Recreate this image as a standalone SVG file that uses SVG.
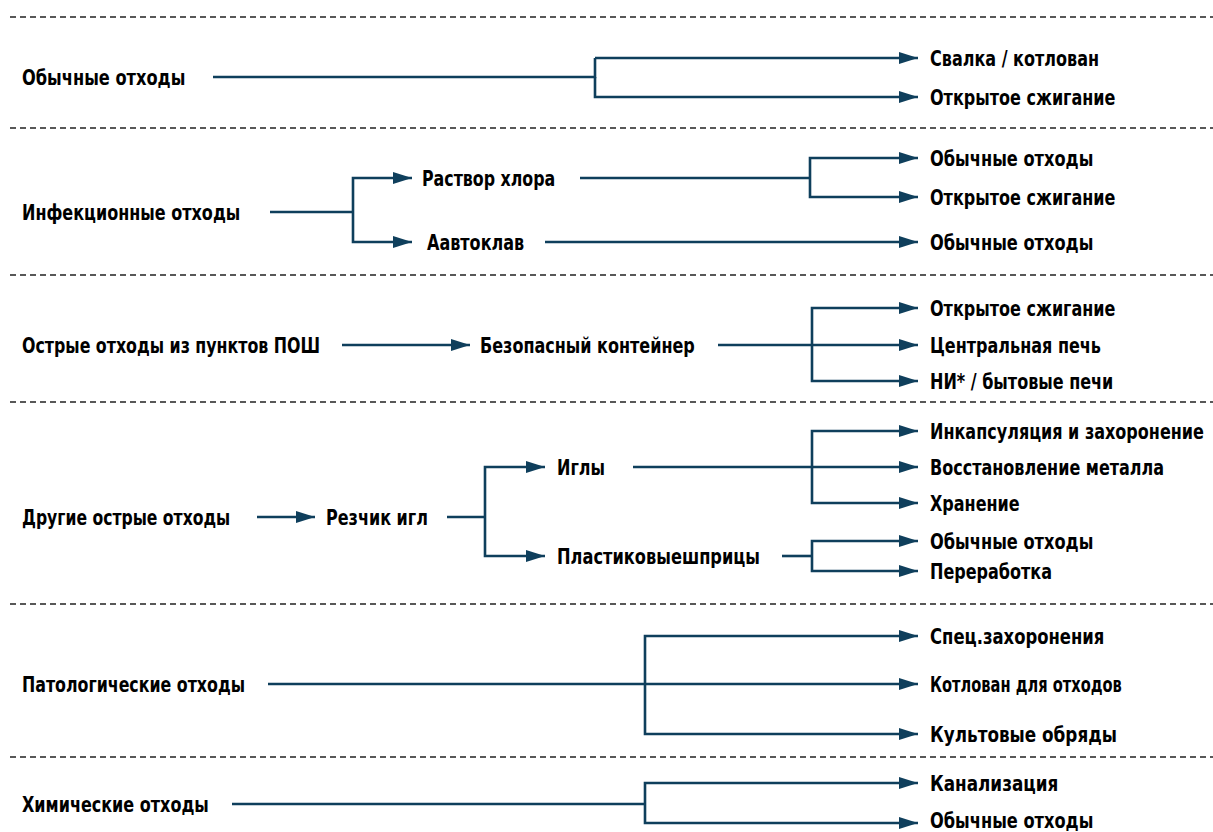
<svg xmlns="http://www.w3.org/2000/svg" width="1213" height="832" viewBox="0 0 1213 832">
<defs>
<marker id="ah" markerUnits="userSpaceOnUse" markerWidth="20" markerHeight="12" refX="19" refY="6" orient="auto">
<path d="M0,0 L19,6 L0,12 z" fill="#0f3f5c"/>
</marker>
<style>
.t{font-family:"DejaVu Sans Condensed","DejaVu Sans","Liberation Sans",sans-serif;font-weight:bold;font-size:22px;fill:#000}
.c{fill:none;stroke:#0f3f5c;stroke-width:2.6}
.a{marker-end:url(#ah)}
.d{stroke:#222;stroke-width:1.5;stroke-dasharray:6 4;fill:none}
</style>
</defs>
<rect width="1213" height="832" fill="#fff"/>
<g id="dividers">
<line class="d" x1="10" y1="17" x2="1213" y2="17"/>
<line class="d" x1="10" y1="128" x2="1213" y2="128"/>
<line class="d" x1="10" y1="275" x2="1213" y2="275"/>
<line class="d" x1="10" y1="402" x2="1213" y2="402"/>
<line class="d" x1="10" y1="604" x2="1213" y2="604"/>
<line class="d" x1="10" y1="757" x2="1213" y2="757"/>
</g>
<g id="connectors">
<path class="c" d="M213,77 H595 V58"/>
<path class="c a" d="M595,58 H918"/>
<path class="c a" d="M595,77 V97 H918"/>
<path class="c" d="M270,212 H353"/>
<path class="c a" d="M353,212 V178 H412"/>
<path class="c a" d="M353,212 V242 H412"/>
<path class="c" d="M580,178 H810"/>
<path class="c a" d="M810,178 V158 H918"/>
<path class="c a" d="M810,178 V197 H918"/>
<path class="c a" d="M545,242 H918"/>
<path class="c a" d="M342,345 H470"/>
<path class="c a" d="M718,345 H918"/>
<path class="c a" d="M812,345 V308 H918"/>
<path class="c a" d="M812,345 V381 H918"/>
<path class="c a" d="M257,517 H315"/>
<path class="c" d="M447,517 H485"/>
<path class="c a" d="M485,517 V467 H545"/>
<path class="c a" d="M485,517 V556 H545"/>
<path class="c a" d="M633,467 H918"/>
<path class="c a" d="M812,467 V431 H918"/>
<path class="c a" d="M812,467 V503 H918"/>
<path class="c" d="M782,556 H812"/>
<path class="c a" d="M812,556 V541 H918"/>
<path class="c a" d="M812,556 V571 H918"/>
<path class="c a" d="M268,684 H918"/>
<path class="c a" d="M645,684 V636 H918"/>
<path class="c a" d="M645,684 V734 H918"/>
<path class="c" d="M232,804 H645"/>
<path class="c a" d="M645,804 V783 H918"/>
<path class="c a" d="M645,804 V823 H918"/>
</g>
<g id="n-obych"><text class="t" transform="translate(22,85) scale(0.82,1)">Обычные отходы</text></g>
<g id="n-svalka"><text class="t" transform="translate(930,66) scale(0.81,1)">Свалка / котлован</text></g>
<g id="n-otkr1"><text class="t" transform="translate(930,105) scale(0.81,1)">Открытое сжигание</text></g>
<g id="n-infek"><text class="t" transform="translate(22,220) scale(0.81,1)">Инфекционные отходы</text></g>
<g id="n-hlor"><text class="t" transform="translate(422,186) scale(0.8,1)">Раствор хлора</text></g>
<g id="n-avtoklav"><text class="t" transform="translate(427,250) scale(0.81,1)">Аавтоклав</text></g>
<g id="n-obych2"><text class="t" transform="translate(930,166) scale(0.82,1)">Обычные отходы</text></g>
<g id="n-otkr2"><text class="t" transform="translate(930,205) scale(0.81,1)">Открытое сжигание</text></g>
<g id="n-obych3"><text class="t" transform="translate(930,250) scale(0.82,1)">Обычные отходы</text></g>
<g id="n-ostrye"><text class="t" transform="translate(22,353) scale(0.8,1)">Острые отходы из пунктов ПОШ</text></g>
<g id="n-bezop"><text class="t" transform="translate(480,353) scale(0.81,1)">Безопасный контейнер</text></g>
<g id="n-otkr3"><text class="t" transform="translate(930,316) scale(0.81,1)">Открытое сжигание</text></g>
<g id="n-centr"><text class="t" transform="translate(930,353) scale(0.81,1)">Центральная печь</text></g>
<g id="n-ni"><text class="t" transform="translate(930,389) scale(0.81,1)">НИ* / бытовые печи</text></g>
<g id="n-drugie"><text class="t" transform="translate(22,525) scale(0.79,1)">Другие острые отходы</text></g>
<g id="n-rezchik"><text class="t" transform="translate(326,525) scale(0.81,1)">Резчик игл</text></g>
<g id="n-igly"><text class="t" transform="translate(557,475) scale(0.81,1)">Иглы</text></g>
<g id="n-plast"><text class="t" transform="translate(557,564) scale(0.82,1)">Пластиковыешприцы</text></g>
<g id="n-inkaps"><text class="t" transform="translate(930,439) scale(0.81,1)">Инкапсуляция и захоронение</text></g>
<g id="n-vosst"><text class="t" transform="translate(930,475) scale(0.81,1)">Восстановление металла</text></g>
<g id="n-hran"><text class="t" transform="translate(930,511) scale(0.81,1)">Хранение</text></g>
<g id="n-obych4"><text class="t" transform="translate(930,549) scale(0.82,1)">Обычные отходы</text></g>
<g id="n-perer"><text class="t" transform="translate(930,579) scale(0.81,1)">Переработка</text></g>
<g id="n-patol"><text class="t" transform="translate(22,692) scale(0.8,1)">Патологические отходы</text></g>
<g id="n-spec"><text class="t" transform="translate(930,644) scale(0.83,1)">Спец.захоронения</text></g>
<g id="n-kotl"><text class="t" transform="translate(930,692) scale(0.74,1)">Котлован для отходов</text></g>
<g id="n-kult"><text class="t" transform="translate(930,742) scale(0.85,1)">Культовые обряды</text></g>
<g id="n-him"><text class="t" transform="translate(22,812) scale(0.81,1)">Химические отходы</text></g>
<g id="n-kanal"><text class="t" transform="translate(930,791) scale(0.85,1)">Канализация</text></g>
<g id="n-obych5"><text class="t" transform="translate(930,828) scale(0.82,1)">Обычные отходы</text></g>
</svg>
